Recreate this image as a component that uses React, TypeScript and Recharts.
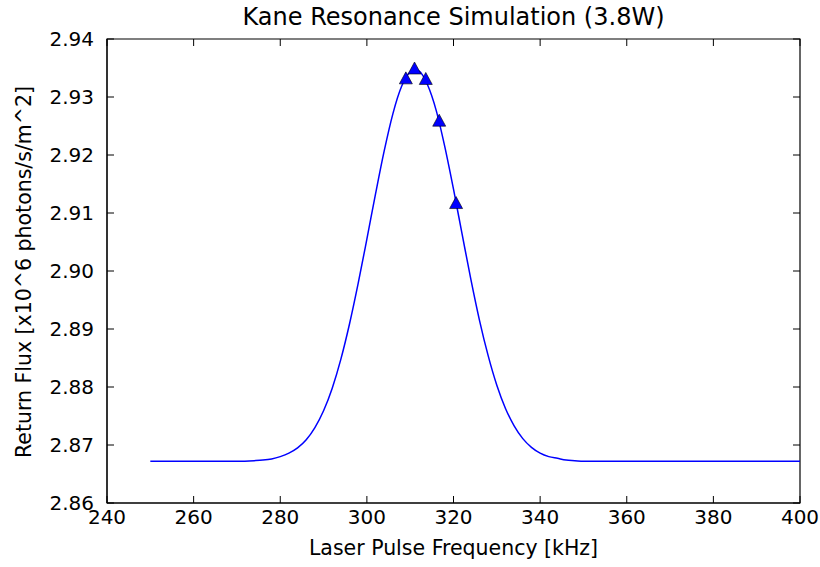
import { ComposedChart, Line, Scatter, XAxis, YAxis, ReferenceArea } from 'recharts';

// simulated return flux curve
const curveFreq = [
  250, 255, 260, 265, 270, 274, 276, 278, 280, 282, 284, 286, 288, 290, 292, 294,
  296, 298, 300, 302, 304, 306, 308, 310, 311, 312, 314, 316, 318, 320, 322, 324,
  326, 328, 330, 332, 334, 336, 338, 340, 342, 344, 346, 348, 350, 360, 370, 380,
  390, 400,
];
const curveFlux = [
  2.8672, 2.8672, 2.8672, 2.8672, 2.8672, 2.8673, 2.8674, 2.8676, 2.868, 2.8686,
  2.8695, 2.8709, 2.873, 2.8759, 2.8798, 2.8848, 2.8909, 2.8979, 2.9055, 2.9133,
  2.9207, 2.9271, 2.9318, 2.9343, 2.9347, 2.9345, 2.9321, 2.9277, 2.9214, 2.9141,
  2.9063, 2.8986, 2.8915, 2.8854, 2.8803, 2.8763, 2.8733, 2.8711, 2.8696, 2.8686,
  2.868, 2.8677, 2.8674, 2.8673, 2.8672, 2.8672, 2.8672, 2.8672, 2.8672, 2.8672,
];

// measured points (triangles)
const pointFreq = [309, 311, 313.6, 316.7, 320.6];
const pointFlux = [2.9333, 2.935, 2.9332, 2.926, 2.9118];

const xTicks = [240, 260, 280, 300, 320, 340, 360, 380, 400];
const yTicks = [2.86, 2.87, 2.88, 2.89, 2.9, 2.91, 2.92, 2.93, 2.94];

const curve = curveFreq.map((f, i) => ({ freq: f, flux: curveFlux[i] }));
const points = pointFreq.map((f, i) => ({ freq: f, flux: pointFlux[i] }));

const font = '"DejaVu Sans", sans-serif';
const PLOT_W = 693;
const PLOT_H = 464;
const TICK = 7;
const X_GAP = 7;
const Y_GAP = 13;

// inward ticks on bottom + top, like matplotlib classic
function XTick(props: any) {
  const { x, y, payload } = props;
  const axisY = y - X_GAP;
  return (
    <g>
      <line x1={x} x2={x} y1={axisY} y2={axisY - TICK} stroke="#000" />
      <line x1={x} x2={x} y1={axisY - PLOT_H} y2={axisY - PLOT_H + TICK} stroke="#000" />
      <text x={x} y={y} dy="0.71em" textAnchor="middle" fontSize={20} fontFamily={font} fill="#000">
        {payload.value}
      </text>
    </g>
  );
}

// inward ticks on left + right
function YTick(props: any) {
  const { x, y, payload } = props;
  const axisX = x + Y_GAP;
  return (
    <g>
      <line x1={axisX} x2={axisX + TICK} y1={y} y2={y} stroke="#000" />
      <line x1={axisX + PLOT_W} x2={axisX + PLOT_W - TICK} y1={y} y2={y} stroke="#000" />
      <text x={x} y={y} dy="0.355em" textAnchor="end" fontSize={20} fontFamily={font} fill="#000">
        {payload.value.toFixed(2)}
      </text>
    </g>
  );
}

// matplotlib '^' marker: box centred on the point
function Triangle(props: any) {
  const { cx, cy } = props;
  const w = 13;
  const h = 12;
  return (
    <polygon
      points={`${cx},${cy - h / 2} ${cx - w / 2},${cy + h / 2} ${cx + w / 2},${cy + h / 2}`}
      fill="#0000ff"
      stroke="#000"
      strokeWidth={0.6}
    />
  );
}

export default function App() {
  return (
    <div style={{ position: 'absolute', left: 0, top: 0, width: 820, height: 567, background: '#fff', fontFamily: font }}>
      <div style={{ position: 'absolute', left: 107, width: 693, top: 3, textAlign: 'center', fontSize: 24 }}>
        Kane Resonance Simulation (3.8W)
      </div>
      <div style={{ position: 'absolute', left: 107, width: 693, top: 536, textAlign: 'center', fontSize: 20.5 }}>
        Laser Pulse Frequency [kHz]
      </div>
      <div
        style={{
          position: 'absolute', left: 24, top: 272, fontSize: 20.5, whiteSpace: 'nowrap',
          transform: 'translate(-50%, -50%) rotate(-90deg)',
        }}
      >
        Return Flux [x10^6 photons/s/m^2]
      </div>
      <ComposedChart
        width={820}
        height={567}
        data={curve}
        margin={{ top: 39, right: 20, left: 47, bottom: 0 }}
        style={{ position: 'absolute', left: 0, top: 0 }}
      >
        <ReferenceArea x1={240} x2={400} y1={2.86} y2={2.94} fill="none" stroke="#000" strokeWidth={1.2} />
        <XAxis
          dataKey="freq" type="number" domain={[240, 400]} ticks={xTicks} interval={0}
          allowDataOverflow height={64} stroke="#000" tickLine={false} tickSize={0}
          tickMargin={X_GAP} tick={<XTick />}
        />
        <YAxis
          dataKey="flux" type="number" domain={[2.86, 2.94]} ticks={yTicks} interval={0}
          allowDataOverflow width={60} stroke="#000" tickLine={false} tickSize={0}
          tickMargin={Y_GAP} tick={<YTick />}
        />
        <Line
          dataKey="flux" type="monotone" stroke="#0000ff" strokeWidth={1.5}
          dot={false} activeDot={false} isAnimationActive={false}
        />
        <Scatter data={points} dataKey="flux" shape={Triangle} isAnimationActive={false} />
      </ComposedChart>
    </div>
  );
}
